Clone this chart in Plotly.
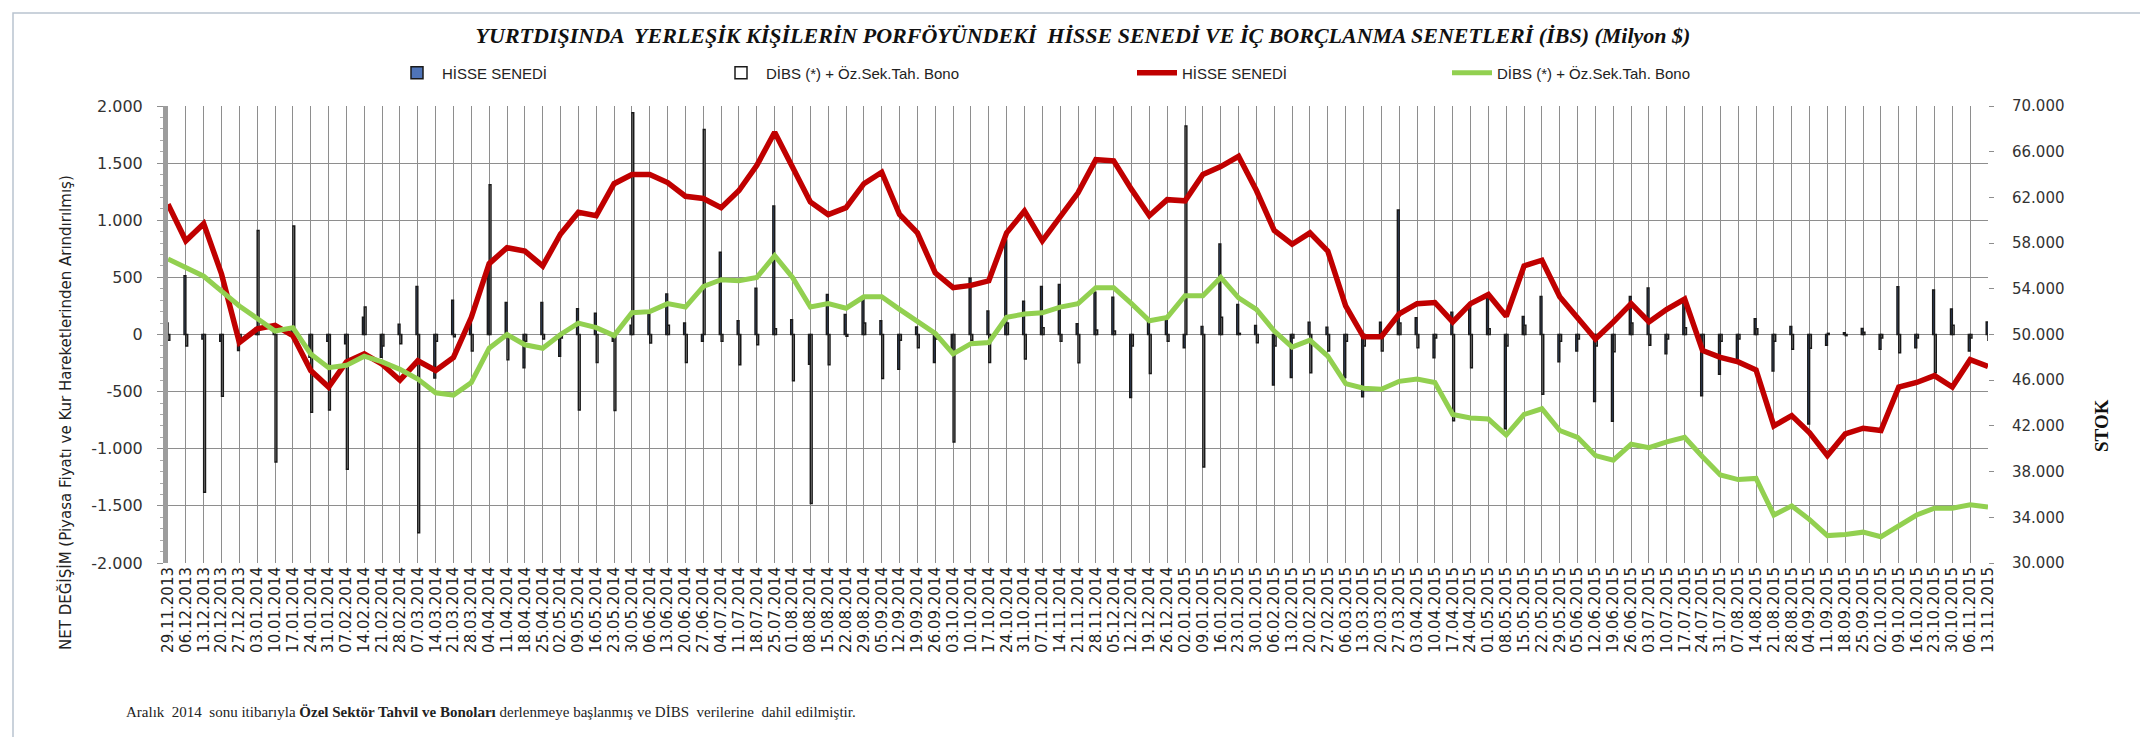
import plotly.graph_objects as go

dates = [
    "29.11.2013", "06.12.2013", "13.12.2013", "20.12.2013", "27.12.2013",
    "03.01.2014", "10.01.2014", "17.01.2014", "24.01.2014", "31.01.2014", "07.02.2014", "14.02.2014",
    "21.02.2014", "28.02.2014", "07.03.2014", "14.03.2014", "21.03.2014", "28.03.2014", "04.04.2014",
    "11.04.2014", "18.04.2014", "25.04.2014", "02.05.2014", "09.05.2014", "16.05.2014", "23.05.2014",
    "30.05.2014", "06.06.2014", "13.06.2014", "20.06.2014", "27.06.2014", "04.07.2014", "11.07.2014",
    "18.07.2014", "25.07.2014", "01.08.2014", "08.08.2014", "15.08.2014", "22.08.2014", "29.08.2014",
    "05.09.2014", "12.09.2014", "19.09.2014", "26.09.2014", "03.10.2014", "10.10.2014", "17.10.2014",
    "24.10.2014", "31.10.2014", "07.11.2014", "14.11.2014", "21.11.2014", "28.11.2014", "05.12.2014",
    "12.12.2014", "19.12.2014", "26.12.2014",
    "02.01.2015", "09.01.2015", "16.01.2015", "23.01.2015", "30.01.2015", "06.02.2015", "13.02.2015",
    "20.02.2015", "27.02.2015", "06.03.2015", "13.03.2015", "20.03.2015", "27.03.2015", "03.04.2015",
    "10.04.2015", "17.04.2015", "24.04.2015", "01.05.2015", "08.05.2015", "15.05.2015", "22.05.2015",
    "29.05.2015", "05.06.2015", "12.06.2015", "19.06.2015", "26.06.2015", "03.07.2015", "10.07.2015",
    "17.07.2015", "24.07.2015", "31.07.2015", "07.08.2015", "14.08.2015", "21.08.2015", "28.08.2015",
    "04.09.2015", "11.09.2015", "18.09.2015", "25.09.2015", "02.10.2015", "09.10.2015", "16.10.2015",
    "23.10.2015", "30.10.2015", "06.11.2015", "13.11.2015",
]

# Net flows (left axis, Milyon $)
hisse_flow = [
    100, 515, -40, -60, -140, 60, 60, 40, -200, -60,
    -80, 150, -200, 90, 420, -380, 300, 120, 570, 280,
    -290, 280, -190, 225, 185, -60, 80, 180, 355, 100,
    -60, 720, 120, 405, 1125, 130, -260, 350, 175, 310,
    120, -305, 65, -245, -150, 495, 205, 827, 290, 420,
    437, 93, 370, 326, -551, 122, 151, -116, 70, 792,
    262, 79, -441, -377, 108, 64, -377, -545, 108, 1089,
    146, -203, 195, 253, 330, -826, 157, 332, -238, -145,
    -586, -760, 332, 408, -168, 297, -537, -348, -232, 137,
    -319, 70, -783, -93, 15, 52, -130, 419, -116, 390,
    224, -145, 110,
]
dibs_flow = [
    -50, -100, -1380, -540, -30, 910, -1115, 950, -680, -660,
    -1180, 240, -100, -80, -1735, -60, -20, -145, 1310, -220,
    -60, -40, -30, -660, -245, -665, 1940, -75, 80, -245,
    1795, -60, -265, -90, 50, -405, -1480, -265, -15, 100,
    -385, -50, -115, -40, -940, -50, -245, 100, -215, 60,
    -58, -247, 40, 30, -100, -342, -58, 1826, -1160, 150,
    10, -73, -100, -30, -334, -145, -60, -100, -145, 100,
    -116, -30, -754, -290, 50, -100, 80, -522, -60, -40,
    -100, -150, 100, -93, -40, 60, -150, -60, -40, 50,
    -60, -130, -120, 10, -10, 20, -30, -160, -30, -334,
    80, -30, -50,
]

# Stocks (right axis, Milyon $)
hisse_stock = [
    61400, 58200, 59700, 55300, 49300, 50500, 50800, 49900, 46850, 45400,
    47600, 48300, 47400, 46000, 47700, 46850, 48000, 51500, 56200, 57600,
    57300, 56000, 58800, 60700, 60400, 63200, 64000, 64000, 63300, 62100,
    61900, 61100, 62600, 64800, 67700, 64600, 61600, 60500, 61100, 63200,
    64200, 60500, 58900, 55400, 54100, 54300, 54700, 58900, 60800, 58200,
    60400, 62400, 65300, 65200, 62700, 60400, 61800, 61700, 64000, 64700,
    65600, 62600, 59100, 57900, 58900, 57300, 52500, 49800, 49800, 51800,
    52700, 52800, 51100, 52700, 53500, 51600, 56000, 56500, 53300, 51500,
    49600, 51100, 52700, 51100, 52200, 53100, 48600, 48000, 47600, 46900,
    42000, 42900, 41400, 39400, 41300, 41800, 41600, 45400, 45800, 46400,
    45400, 47800, 47200,
]
dibs_stock = [
    56600, 55900, 55100, 53800, 52500, 51400, 50300, 50600, 48300, 47100,
    47300, 48100, 47600, 46950, 46100, 44900, 44700, 45800, 48800, 50000,
    49100, 48800, 50000, 51000, 50600, 49900, 51900, 52000, 52700, 52400,
    54200, 54800, 54700, 55000, 56900, 55000, 52400, 52700, 52300, 53300,
    53300, 52200, 51100, 50100, 48300, 49200, 49300, 51500, 51800, 51900,
    52400, 52700, 54100, 54100, 52700, 51200, 51500, 53400, 53400, 55000,
    53200, 52200, 50300, 48900, 49500, 48100, 45700, 45300, 45200, 45900,
    46100, 45800, 43000, 42700, 42600, 41200, 43000, 43500, 41600, 41000,
    39400, 39000, 40400, 40100, 40600, 41000, 39300, 37700, 37300, 37400,
    34200, 35000, 33800, 32400, 32500, 32700, 32300, 33200, 34200, 34800,
    34800, 35100, 34900,
]

left_tick_vals = [-2000, -1500, -1000, -500, 0, 500, 1000, 1500, 2000]
left_tick_text = ["-2.000", "-1.500", "-1.000", "-500", "0", "500", "1.000", "1.500", "2.000"]
right_tick_vals = [30000, 34000, 38000, 42000, 46000, 50000, 54000, 58000, 62000, 66000, 70000]
right_tick_text = ["30.000", "34.000", "38.000", "42.000", "46.000", "50.000",
                   "54.000", "58.000", "62.000", "66.000", "70.000"]

name_hisse = "HİSSE SENEDİ"
name_dibs = "DİBS (*) + Öz.Sek.Tah. Bono"

W, H = 2148, 737
L, R, T, B = 160, 1980, 98, 555
pw, ph = R - L, B - T


def px(x):
    return (x - L) / pw


def py(y):
    return (B - y) / ph


fig = go.Figure()
fig.add_trace(go.Bar(
    x=dates, y=hisse_flow, name=name_hisse, legend="legend",
    marker=dict(color="#4f74b8", line=dict(color="#1a1a1a", width=1.5)),
))
fig.add_trace(go.Bar(
    x=dates, y=dibs_flow, name=name_dibs, legend="legend2",
    marker=dict(color="#ffffff", line=dict(color="#1a1a1a", width=1.5)),
))
fig.add_trace(go.Scatter(
    x=dates, y=hisse_stock, name=name_hisse, yaxis="y2", mode="lines", legend="legend3",
    line=dict(color="#c00000", width=5.5),
))
fig.add_trace(go.Scatter(
    x=dates, y=dibs_stock, name=name_dibs, yaxis="y2", mode="lines", legend="legend4",
    line=dict(color="#92d050", width=5),
))

legend_font = dict(family="Liberation Sans Narrow, Liberation Sans, Arial", size=15, color="#222222")
leg_common = dict(orientation="h", yanchor="middle", y=py(65), xanchor="left",
                  font=legend_font, bgcolor="rgba(0,0,0,0)", itemwidth=40)

fig.update_layout(
    width=W, height=H,
    margin=dict(l=L, r=W - R, t=T, b=H - B, pad=0),
    paper_bgcolor="white", plot_bgcolor="white",
    barmode="group", bargap=0.8, bargroupgap=0.0,
    showlegend=True,
    legend=dict(leg_common, x=px(384)),
    legend2=dict(leg_common, x=px(708)),
    legend3=dict(leg_common, x=px(1124)),
    legend4=dict(leg_common, x=px(1439)),
    title=dict(
        text="<b><i>YURTDIŞINDA  YERLEŞİK KİŞİLERİN PORFÖYÜNDEKİ  HİSSE SENEDİ VE İÇ BORÇLANMA SENETLERİ (İBS) (Milyon $)</i></b>",
        x=1075 / W, xanchor="center", xref="container",
        y=1 - 27 / H, yanchor="middle", yref="container",
        font=dict(family="Liberation Serif, Times New Roman", size=22, color="#111111"),
    ),
    xaxis=dict(
        type="category", range=[0, len(dates) - 1],
        tickmode="linear", tick0=0, dtick=1,
        tickangle=-90, tickfont=dict(family="DejaVu Sans, Verdana", size=15, color="#222222"),
        showgrid=True, gridcolor="#8e8e8e", gridwidth=1,
        showline=False, zeroline=False, ticks="",
    ),
    yaxis=dict(
        range=[-2000, 2000], tickvals=left_tick_vals, ticktext=left_tick_text,
        tickfont=dict(family="DejaVu Sans, Verdana", size=16, color="#333333"),
        showgrid=True, gridcolor="#8e8e8e", gridwidth=1, zeroline=False,
        showline=True, linecolor="#9c9c9c", linewidth=5,
        ticks="outside", ticklen=6, tickcolor="#8e8e8e", ticklabelstandoff=11,
        minor=dict(dtick=100, ticks="outside", ticklen=3, tickcolor="#aaaaaa"),
    ),
    yaxis2=dict(
        range=[30000, 70000], tickvals=right_tick_vals, ticktext=right_tick_text,
        overlaying="y", side="right",
        tickfont=dict(family="DejaVu Sans, Verdana", size=15, color="#333333"),
        showgrid=False, zeroline=False, showline=False,
        ticks="outside", ticklen=5, tickcolor="#8e8e8e", ticklabelstandoff=15,
    ),
    annotations=[
        dict(text="NET DEĞİŞİM (Piyasa Fiyatı ve Kur Hareketlerinden Arındırılmış)",
             xref="paper", yref="paper", x=px(57), y=py(405), textangle=-90,
             showarrow=False, xanchor="center", yanchor="middle",
             font=dict(family="DejaVu Sans, Verdana", size=15, color="#222222")),
        dict(text="<b>STOK</b>", xref="paper", yref="paper", x=px(2093), y=py(418), textangle=-90,
             showarrow=False, xanchor="center", yanchor="middle",
             font=dict(family="Liberation Serif, Times New Roman", size=19, color="#111111")),
        dict(text="Aralık  2014  sonu itibarıyla <b>Özel Sektör Tahvil ve Bonoları</b> derlenmeye başlanmış ve DİBS  verilerine  dahil edilmiştir.",
             xref="paper", yref="paper", x=px(116), y=py(704), showarrow=False,
             xanchor="left", yanchor="middle",
             font=dict(family="Liberation Serif, Times New Roman", size=15, color="#222222")),
    ],
    shapes=[
        dict(type="rect", xref="paper", yref="paper", x0=px(5), x1=px(2141), y0=py(731), y1=py(5),
             line=dict(color="#b9c3cf", width=1.5), fillcolor="rgba(0,0,0,0)", layer="below"),
    ],
)

fig.write_html("out.html")
